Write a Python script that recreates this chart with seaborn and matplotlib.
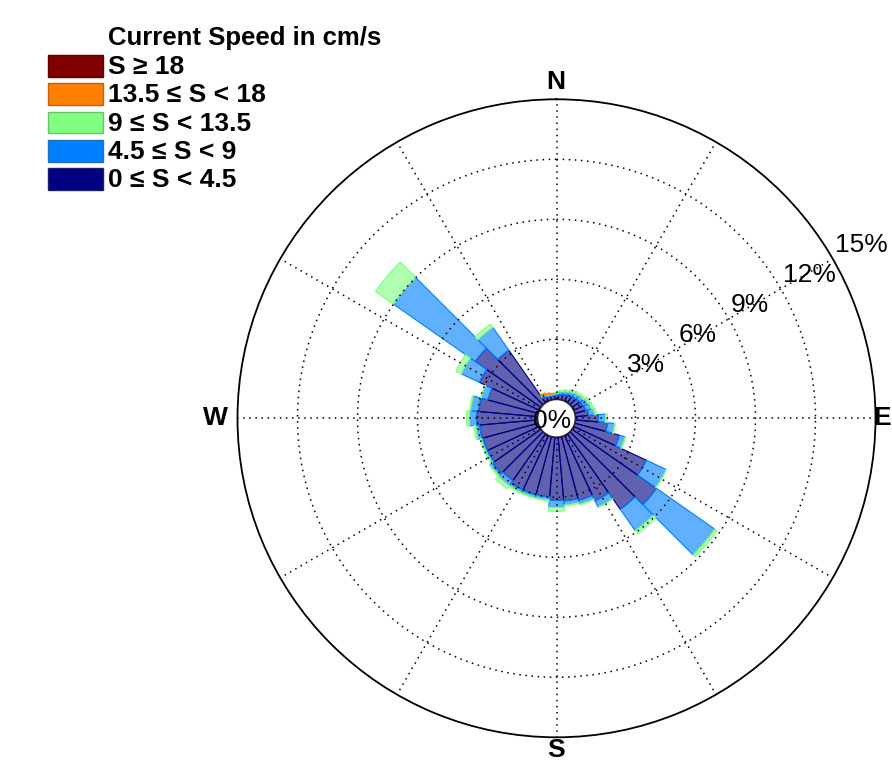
import numpy as np
import pandas as pd
import matplotlib
matplotlib.use("Agg")
import matplotlib.pyplot as plt
from matplotlib.patches import Rectangle
from matplotlib.colors import to_rgba
import seaborn as sns

# Direction bins (degrees clockwise from north), 10 degree sectors
directions = list(range(0, 360, 10))

# Frequency (%) of each speed class per direction bin
speed_0_45 = [0.20, 0.25, 0.30, 0.35, 0.40, 0.45, 0.50, 0.55, 0.65, 1.15, 1.60, 2.30,
              4.00, 5.15, 4.60, 3.60, 3.30, 3.20, 3.15, 3.00, 3.00, 3.00, 2.85, 2.95,
              2.85, 2.85, 2.90, 3.05, 2.95, 2.60, 3.30, 4.00, 3.20, 0.25, 0.20, 0.18]
speed_45_9 = [0.10, 0.15, 0.17, 0.20, 0.22, 0.23, 0.28, 0.30, 0.30, 0.35, 0.35, 0.30,
              1.10, 3.55, 1.30, 0.35, 0.20, 0.20, 0.35, 0.15, 0.15, 0.15, 0.30, 0.15,
              0.10, 0.10, 0.20, 0.35, 0.40, 0.35, 1.00, 5.00, 1.40, 0.10, 0.07, 0.06]
speed_9_135 = [0.05, 0.05, 0.08, 0.10, 0.10, 0.10, 0.10, 0.11, 0.10, 0.10, 0.05, 0.03,
               0.02, 0.15, 0.20, 0.03, 0.03, 0.05, 0.20, 0.05, 0.05, 0.05, 0.20, 0.05,
               0.05, 0.05, 0.10, 0.15, 0.05, 0.03, 0.30, 1.10, 0.20, 0.05, 0.05, 0.04]
speed_135_18 = [0.00, 0.00, 0.00, 0.00, 0.00, 0.00, 0.00, 0.00, 0.00, 0.00, 0.00, 0.00,
                0.00, 0.00, 0.00, 0.00, 0.00, 0.00, 0.00, 0.00, 0.00, 0.00, 0.00, 0.00,
                0.00, 0.00, 0.00, 0.00, 0.00, 0.00, 0.00, 0.00, 0.00, 0.05, 0.05, 0.03]
speed_18_up = [0.0] * 36

bin_labels = ["0 \u2264 S < 4.5", "4.5 \u2264 S < 9", "9 \u2264 S < 13.5",
              "13.5 \u2264 S < 18", "S \u2265 18"]
bin_colors = ["#000080", "#0080FF", "#80FF80", "#FF8000", "#800000"]
legend_edges = ["#202070", "#2070C0", "#70C070", "#C06010", "#600000"]
legend_title = "Current Speed in cm/s"
ring_values = [3, 6, 9, 12, 15]
compass_labels = ["N", "E", "S", "W"]

sns.set_theme(style="white")
plt.rcParams["font.family"] = ["Liberation Sans", "DejaVu Sans"]

df = pd.DataFrame({
    "direction": directions * 5,
    "speed_class": np.repeat(bin_labels, len(directions)),
    "freq": speed_0_45 + speed_45_9 + speed_9_135 + speed_135_18 + speed_18_up,
})
palette = dict(zip(bin_labels, sns.color_palette(bin_colors)))

W, H = 892, 762
fig = plt.figure(figsize=(W / 100, H / 100), dpi=100)
cx, cy, R = 556.5, 418.3, 319.0


def fx(px):
    return px / W


def fy(py):
    return 1 - py / H


ax = fig.add_axes([(cx - R) / W, (H - cy - R) / H, 2 * R / W, 2 * R / H],
                  projection="polar")
ax.set_theta_zero_location("N")
ax.set_theta_direction(-1)
ax.set_ylim(0, 15)
ax.set_rorigin(-0.95)
ax.grid(False)
ax.set_xticks([])
ax.set_yticks([])
ax.set_facecolor("white")
for name, sp in ax.spines.items():
    if name == "polar":
        sp.set_color("black")
        sp.set_linewidth(1.3)
    else:
        sp.set_visible(False)

# stacked sectors
width = np.deg2rad(10)
theta = np.deg2rad(np.array(directions, dtype=float))
bottom = np.zeros(len(directions))
for label in bin_labels:
    vals = df.loc[df["speed_class"] == label, "freq"].to_numpy()
    col = palette[label]
    mask = vals > 0
    if mask.any():
        ax.bar(theta[mask], vals[mask], width=width, bottom=bottom[mask],
               color=to_rgba(col, 0.62), edgecolor=col, linewidth=0.8, zorder=2)
    bottom = bottom + vals

# dotted grid on top of sectors
tt = np.linspace(0, 2 * np.pi, 721)
for r in ring_values[:-1]:
    ax.plot(tt, np.full_like(tt, r), color="black", lw=1.1, ls=(0, (1, 3)), zorder=4)
for a in range(0, 360, 30):
    ax.plot([np.deg2rad(a)] * 2, [0, 15], color="black", lw=1.1, ls=(0, (1, 3)), zorder=4)

# ring labels
for v in ring_values:
    ax.annotate(f"{v}%", xy=(np.deg2rad(60), v), xytext=(1.5, 5),
                textcoords="offset points", ha="left", va="baseline",
                fontsize=19, color="black", annotation_clip=False, zorder=6)
fig.text(fx(551.7), fy(421), "0%", ha="center", va="center", fontsize=19, color="black",
         zorder=7)

# compass labels
compass_pos = {"N": (556, 82), "E": (882, 418), "S": (556, 750), "W": (215, 418)}
for lab in compass_labels:
    px, py = compass_pos[lab]
    fig.text(fx(px), fy(py), lab, ha="center", va="center", fontsize=19,
             fontweight="bold", color="black")

# legend
fig.text(fx(108), fy(45), legend_title, ha="left", va="baseline", fontsize=18.5,
         fontweight="bold", color="black")
for i, idx in enumerate(range(len(bin_labels) - 1, -1, -1)):
    top = 55 + i * 28.3
    fig.patches.append(Rectangle((fx(47.7), fy(top + 21.7)), 55.6 / W, 21.7 / H,
                                 transform=fig.transFigure, facecolor=bin_colors[idx],
                                 edgecolor=legend_edges[idx], linewidth=1.0))
    fig.text(fx(108), fy(74 + i * 28.3), bin_labels[idx], ha="left", va="baseline",
             fontsize=19, fontweight="bold", color="black")

fig.savefig("out.png", dpi=100)
